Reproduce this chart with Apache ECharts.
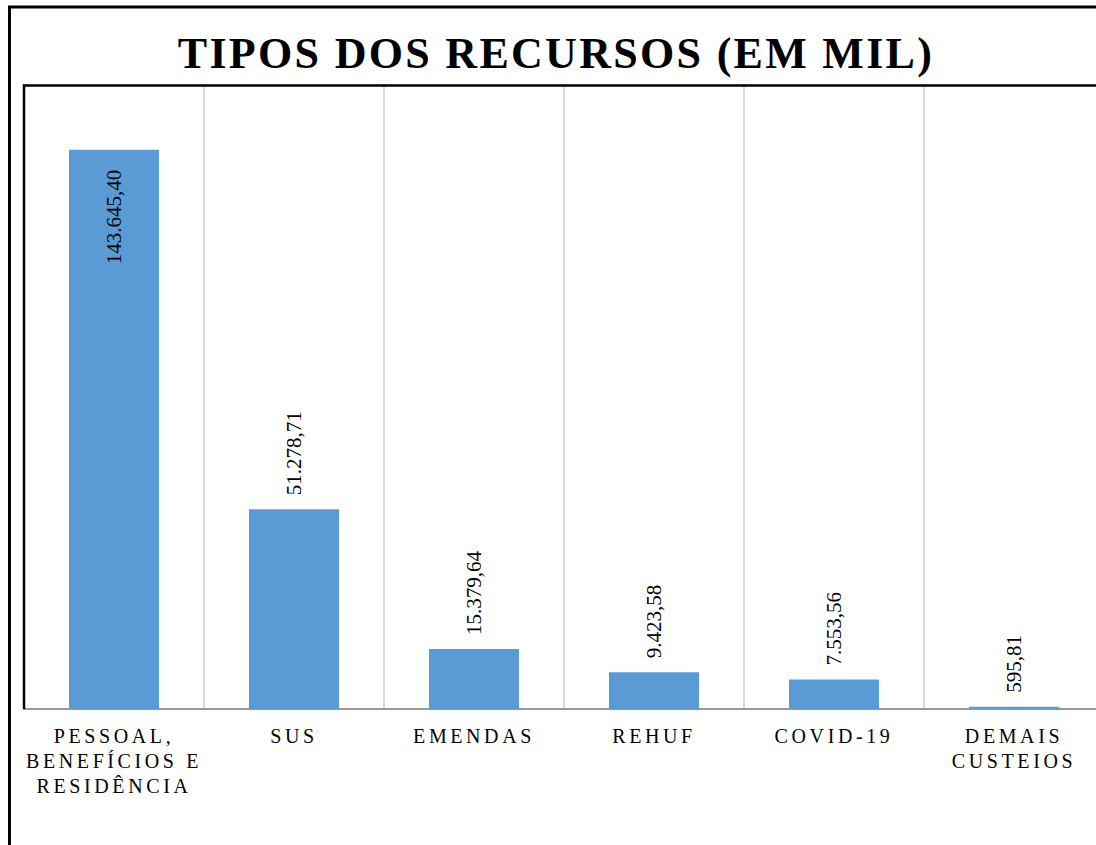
<!DOCTYPE html>
<html>
<head>
<meta charset="utf-8">
<title>Tipos dos recursos</title>
<script src="https://cdn.jsdelivr.net/npm/echarts@6/dist/echarts.min.js"></script>
<style>
    html, body { margin: 0; padding: 0; background: #fff; overflow: hidden; }
    /* the original chart is cut off on the right, so the canvas runs past the window */
    #chart { width: 1110px; height: 845px; }
    /* letter-spaced serif text, picked out by its fill colour */
    #chart text[fill="#020202"] { letter-spacing: 3.6px; }
    #chart text[fill="#010101"] { letter-spacing: 2.3px; }
</style>
</head>
<body>
<div id="chart"></div>
<script>
// values in thousands (R$ mil)
const categories = [
    'PESSOAL,\nBENEFÍCIOS E\nRESIDÊNCIA',
    'SUS',
    'EMENDAS',
    'REHUF',
    'COVID-19',
    'DEMAIS\nCUSTEIOS'
];
const values = [143645.40, 51278.71, 15379.64, 9423.58, 7553.56, 595.81];

const SERIF = '"Liberation Serif", "Times New Roman", serif';

function fmtBR(v) {
    const parts = v.toFixed(2).split('.');
    const int = parts[0].replace(/\B(?=(\d{3})+(?!\d))/g, '.');
    return int + ',' + parts[1];
}

const chart = echarts.init(document.getElementById('chart'), null, { renderer: 'svg' });

// first (tallest) bar keeps its label inside, the others sit above the bar
const barData = values.map((v, i) => {
    if (i === 0) {
        return {
            value: v,
            label: { position: 'insideTop', align: 'right', verticalAlign: 'middle', distance: 20 }
        };
    }
    return v;
});

chart.setOption({
    animation: false,
    backgroundColor: '#fff',
    title: {
        text: 'TIPOS DOS RECURSOS (EM MIL)',
        left: 551,
        textAlign: 'center',
        top: 26,
        textStyle: {
            fontFamily: SERIF,
            fontSize: 44,
            fontWeight: 'bold',
            color: '#010101'
        }
    },
    grid: { left: 24, top: 86, width: 1080, height: 623 },
    xAxis: {
        type: 'category',
        data: categories,
        axisTick: { show: false },
        axisLine: { lineStyle: { color: '#999', width: 2 } },
        splitLine: { show: true, lineStyle: { color: '#d9d9d9', width: 2 } },
        axisLabel: {
            interval: 0,
            margin: 14,
            fontFamily: SERIF,
            fontSize: 20,
            lineHeight: 25,
            color: '#020202'
        }
    },
    yAxis: {
        type: 'value',
        min: 0,
        max: 160000,
        show: false,
        splitLine: { show: false }
    },
    graphic: [
        // outer frame (right/bottom edges fall outside the picture)
        {
            type: 'rect',
            shape: { x: 9.5, y: 7, width: 2000, height: 2000 },
            style: { fill: 'none', stroke: '#000', lineWidth: 3 },
            silent: true
        },
        // plot frame: top and left edges
        {
            type: 'polyline',
            shape: { points: [[24, 709], [24, 85.5], [1110, 85.5]] },
            style: { fill: 'none', stroke: '#000', lineWidth: 2.5 },
            silent: true,
            z: 10
        }
    ],
    series: [{
        type: 'bar',
        data: barData,
        barWidth: '50%',
        itemStyle: { color: '#5b9bd5' },
        label: {
            show: true,
            position: 'top',
            rotate: 90,
            align: 'left',
            verticalAlign: 'middle',
            distance: 14,
            fontFamily: SERIF,
            fontSize: 21,
            color: '#000000',
            formatter: p => fmtBR(p.value)
        }
    }]
});
</script>
</body>
</html>
